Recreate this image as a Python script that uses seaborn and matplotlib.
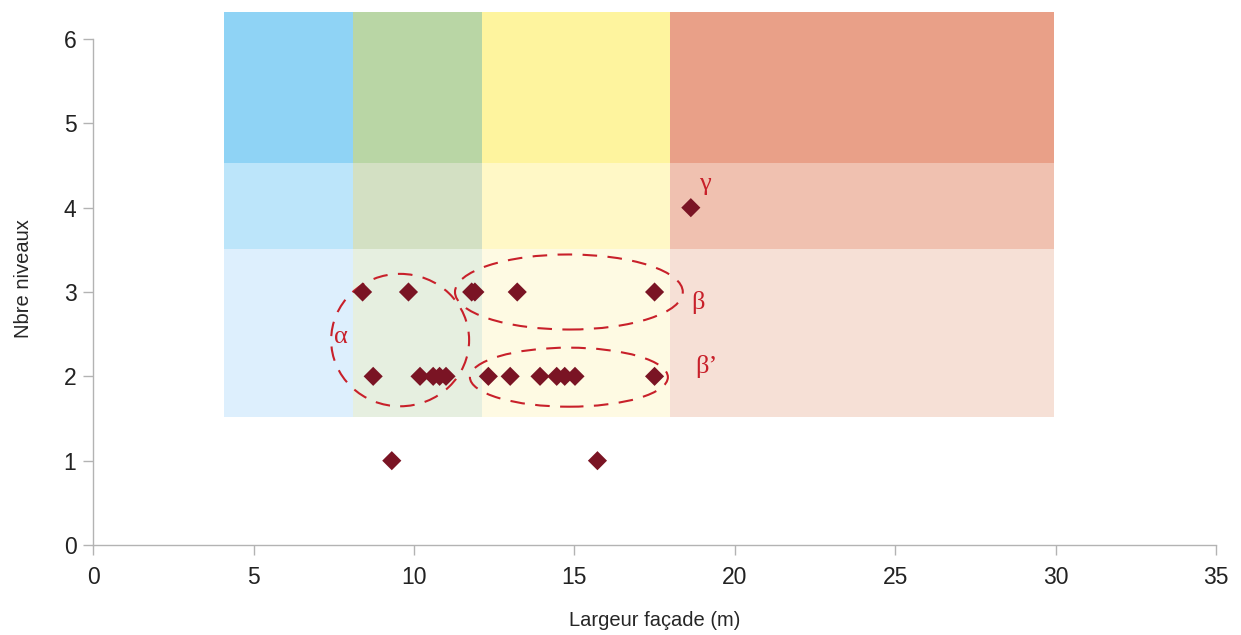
import matplotlib
matplotlib.use("Agg")
import matplotlib.pyplot as plt
from matplotlib.patches import Rectangle, Ellipse
import seaborn as sns
import pandas as pd

# points: façade width (m) vs number of levels
largeur = [8.4, 9.83, 11.8, 11.9, 13.22, 17.5,
           8.73, 10.19, 10.6, 10.8, 11.0, 12.32, 13.0, 13.93, 14.45, 14.7, 15.02, 17.5,
           9.31, 15.72,
           18.63]
niveaux = [3, 3, 3, 3, 3, 3,
           2, 2, 2, 2, 2, 2, 2, 2, 2, 2, 2, 2,
           1, 1,
           4]

# background zones
zone_x = [4.08, 8.1, 12.12, 17.98, 29.95]
zone_y = [1.52, 3.51, 4.53, 6.32]
zone_colors = [
    ["#DDEFFD", "#BCE5FA", "#8FD3F5"],
    ["#E6EFE0", "#D3E0C3", "#B9D6A5"],
    ["#FEFAE3", "#FFF8C6", "#FEF49E"],
    ["#F6E0D6", "#F0C1B0", "#E9A088"],
]

# groups (centre x, centre y, width, height) and labels
groupes = ["α", "β", "β’", "γ"]
ell_cx = [9.57, 14.83, 14.83]
ell_cy = [2.43, 3.0, 1.99]
ell_w = [4.3, 7.1, 6.17]
ell_h = [1.57, 0.89, 0.70]
lab_x = [7.73, 18.85, 19.1, 19.07]
lab_y = [2.47, 2.88, 2.12, 4.28]

df = pd.DataFrame({"Largeur façade (m)": largeur, "Nbre niveaux": niveaux})

sns.set_style("white")
plt.rcParams["font.family"] = ["Liberation Sans", "DejaVu Sans"]

fig = plt.figure(figsize=(12.41, 6.35), dpi=100)
ax = fig.add_axes([0.075, 0.1417, 0.9049, 0.8394])

for i in range(len(zone_x) - 1):
    for j in range(len(zone_y) - 1):
        ax.add_patch(Rectangle((zone_x[i], zone_y[j]), zone_x[i + 1] - zone_x[i],
                               zone_y[j + 1] - zone_y[j], facecolor=zone_colors[i][j],
                               edgecolor="none", zorder=0))

for k in range(len(ell_cx)):
    ax.add_patch(Ellipse((ell_cx[k], ell_cy[k]), ell_w[k], ell_h[k], fill=False,
                         edgecolor="#C8202A", lw=1.5, linestyle=(0, (7, 5)), zorder=2))

sns.scatterplot(data=df, x="Largeur façade (m)", y="Nbre niveaux", marker="D",
                color="#7A1424", s=95, edgecolor="none", ax=ax, zorder=3)

for g, tx, ty in zip(groupes, lab_x, lab_y):
    ax.text(tx, ty, g, color="#C8202A", fontsize=19, ha="center", va="center",
            family=["Liberation Serif", "DejaVu Serif"])

ax.set_xlim(0, 35)
ax.set_ylim(0, 6.32)
ax.set_xticks(range(0, 36, 5))
ax.set_yticks(range(0, 7))
ax.spines["left"].set_bounds(0, 6)
for s in ["top", "right"]:
    ax.spines[s].set_visible(False)
for s in ["left", "bottom"]:
    ax.spines[s].set_color("#b3b3b3")
    ax.spines[s].set_linewidth(1)
ax.tick_params(axis="both", length=7, width=1, color="#b3b3b3", labelsize=16.5,
               labelcolor="#222222", direction="out", bottom=True, left=True)
ax.tick_params(axis="x", pad=8)
ax.tick_params(axis="y", pad=5)
ax.set_xlabel("Largeur façade (m)", fontsize=14.5, labelpad=16)
ax.set_ylabel("Nbre niveaux", fontsize=14.5, labelpad=22)

fig.savefig("out.png", dpi=100)
